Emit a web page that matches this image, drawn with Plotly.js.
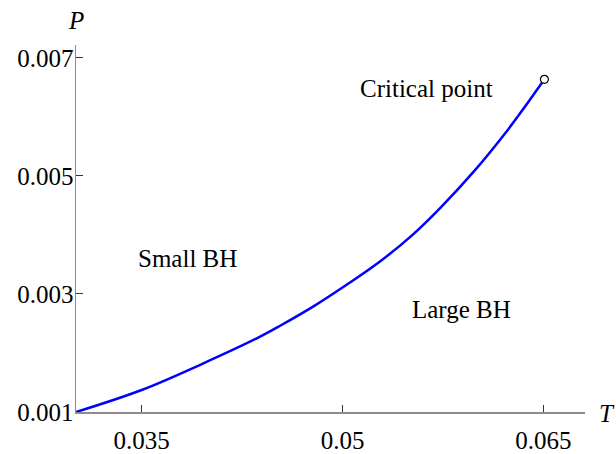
<!DOCTYPE html>
<html>
<head>
<meta charset="utf-8">
<script src="https://cdn.plot.ly/plotly-3.0.1.min.js"></script>
<style>html,body{margin:0;padding:0;background:#fff;}#chart{width:616px;height:454px;}</style>
</head>
<body>
<div id="chart"></div>
<script>
// Coexistence curve
const temperature = [0.0301, 0.035, 0.03961, 0.0436, 0.04534, 0.04783, 0.05033, 0.05282, 0.05531, 0.0573, 0.05979, 0.06229, 0.06353, 0.06507];
const pressure    = [0.001, 0.001373, 0.001825, 0.002249, 0.002462, 0.002790, 0.003160, 0.003555, 0.00402, 0.00446, 0.005073, 0.005768, 0.006147, 0.006639];
// Critical point
const criticalT = [0.06507];
const criticalP = [0.006639];
// Ticks
const xTickVals = [0.035, 0.05, 0.065];
const xTickText = ["0.035", "0.05", "0.065"];
const yTickVals = [0.001, 0.003, 0.005, 0.007];
const yTickText = ["0.001", "0.003", "0.005", "0.007"];
// Region labels
const labelTexts = ["Small BH", "Critical point", "Large BH"];
const labelT = [0.03839, 0.05626, 0.05887];
const labelP = [0.00361, 0.00649, 0.002729];

const serif = "'Liberation Serif', 'Times New Roman', 'DejaVu Serif', serif";
const fs = 25;

const traces = [
  {x: temperature, y: pressure, mode: "lines", type: "scatter",
   line: {color: "#0000ff", width: 2.5, shape: "spline", smoothing: 1},
   hoverinfo: "skip", cliponaxis: false},
  {x: criticalT, y: criticalP, mode: "markers", type: "scatter",
   marker: {symbol: "circle", size: 8, color: "#ffffff", line: {color: "#000000", width: 1.2}},
   hoverinfo: "skip", cliponaxis: false}
];

const annotations = labelTexts.map((t, i) => ({
  x: labelT[i], y: labelP[i], xref: "x", yref: "y", text: t, showarrow: false,
  xanchor: "center", yanchor: "middle", font: {family: serif, size: fs, color: "#000"}
}));
annotations.push({x: 0, y: 1.066, xref: "paper", yref: "paper", text: "<i>P</i>", showarrow: false,
  xanchor: "center", yanchor: "middle", font: {family: serif, size: fs, color: "#000"}});
annotations.push({x: 1.043, y: -0.004, xref: "paper", yref: "paper", text: "<i>T</i>", showarrow: false,
  xanchor: "center", yanchor: "middle", font: {family: serif, size: fs, color: "#000"}});

const layout = {
  width: 616, height: 454,
  margin: {l: 76, r: 31, t: 45, b: 42, pad: 0},
  paper_bgcolor: "#fff", plot_bgcolor: "#fff",
  showlegend: false,
  font: {family: serif, size: fs, color: "#000"},
  xaxis: {range: [0.0301, 0.0681], showgrid: false, zeroline: false,
    showline: true, linecolor: "#8c8c8c", linewidth: 1.5,
    ticks: "inside", ticklen: 7, tickwidth: 1, tickcolor: "#333",
    tickvals: xTickVals, ticktext: xTickText, ticklabelstandoff: 5,
    tickfont: {family: serif, size: fs, color: "#000"}},
  yaxis: {range: [0.001, 0.00722], showgrid: false, zeroline: false,
    showline: true, linecolor: "#8c8c8c", linewidth: 1.5,
    ticks: "inside", ticklen: 7, tickwidth: 1, tickcolor: "#333",
    tickvals: yTickVals, ticktext: yTickText, ticklabelstandoff: -4,
    tickfont: {family: serif, size: fs, color: "#000"}},
  annotations: annotations
};

Plotly.newPlot("chart", traces, layout, {displayModeBar: false, staticPlot: true});
</script>
</body>
</html>
